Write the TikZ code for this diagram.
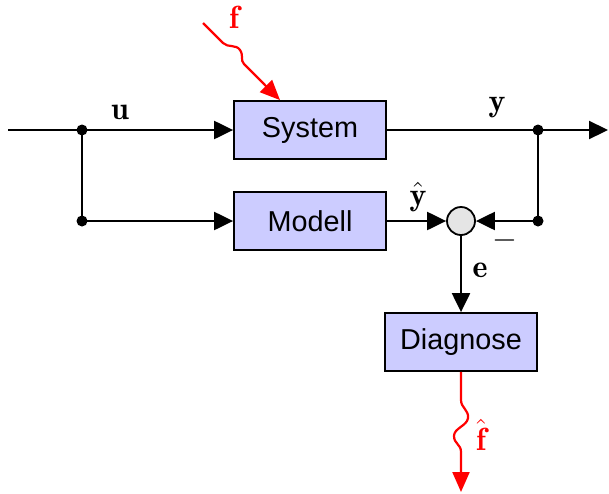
\RequirePackage{fix-cm}
\documentclass[tikz,border=0pt]{standalone}
\usepackage{fontspec}
\setsansfont{Liberation Sans}
\usetikzlibrary{arrows.meta}
\definecolor{boxblue}{RGB}{204,204,255}
\definecolor{sumgray}{RGB}{229,229,229}
\begin{document}
\begin{tikzpicture}[x=0.5pt,y=-0.5pt,
  blk/.style={draw=black, line width=0.9pt, fill=boxblue, minimum width=76pt, minimum height=29pt, inner sep=0pt, font=\sffamily\fontsize{14.4}{17}\selectfont},
  sumnode/.style={circle, draw=black, line width=0.9pt, fill=sumgray, minimum size=14pt, inner sep=0pt},
  conn/.style={line width=1.1pt, -{Triangle[length=9.5pt,width=9pt]}},
  plain/.style={line width=1.1pt},
  dotnode/.style={circle, fill=black, minimum size=5.5pt, inner sep=0pt},
  wave/.style={red, line width=1.1pt, -{Triangle[length=10pt,width=8.5pt]}},
  lbl/.style={font=\fontsize{16}{19}\selectfont},
  rlbl/.style={lbl, text=red}]
\useasboundingbox (0,0) rectangle (609,493);
\node[blk] (sys) at (310,130) {System};
\node[blk] (mod) at (310,221) {Modell};
\node[blk] (diag) at (461,342) {Diagnose};
\node[sumnode] (sum) at (461,221) {};
\coordinate (in) at (8,130);
\node[dotnode] (d1) at (82,130) {};
\node[dotnode] (d2) at (82,221) {};
\node[dotnode] (d3) at (538,130) {};
\node[dotnode] (d4) at (538,221) {};
\coordinate (out) at (608,130);
\coordinate (fs) at (203,23);
\coordinate (fe) at ([xshift=-15pt]sys.north);
\coordinate (fhe) at (461,492);
% connectors
\draw[plain] (in) -- (d1.center);
\draw[conn] (d1.center) -- (sys.west);
\draw[plain] (d1.center) -- (d2.center);
\draw[conn] (d2.center) -- (mod.west);
\draw[conn] (sys.east) -- (out);
\draw[plain] (d3.center) -- (d4.center);
\draw[conn] (d4.center) -- (sum.east);
\draw[conn] (mod.east) -- (sum.west);
\draw[conn] (sum.south) -- (diag.north);
% wavy arrows
\draw[wave] (fs) -- (223,43) .. controls (228,48) and (236,44) .. (240,50) .. controls (244,56) and (240,60) .. (244,64) -- (fe);
\draw[wave] (diag.south) -- (461,400) .. controls (461,408) and (469,410) .. (468,418) .. controls (467,426) and (454,428) .. (454,436) .. controls (454,444) and (461,444) .. (461,452) -- (fhe);
% labels
\node[lbl] (lu) at (120,112) {$\mathbf{u}$};
\node[lbl] (ly) at (497,108) {$\mathbf{y}$};
\node[lbl] (lyh) at (418,197) {$\hat{\mathbf{y}}$};
\node[lbl] (lm) at (505,240) {$-$};
\node[lbl] (le) at (480,270) {$\mathbf{e}$};
\node[rlbl] (lf) at (234,17) {$\mathbf{f}$};
\node[rlbl] (lfh) at (481,435) {$\hat{\mathbf{f}}$};
\end{tikzpicture}
\end{document}
